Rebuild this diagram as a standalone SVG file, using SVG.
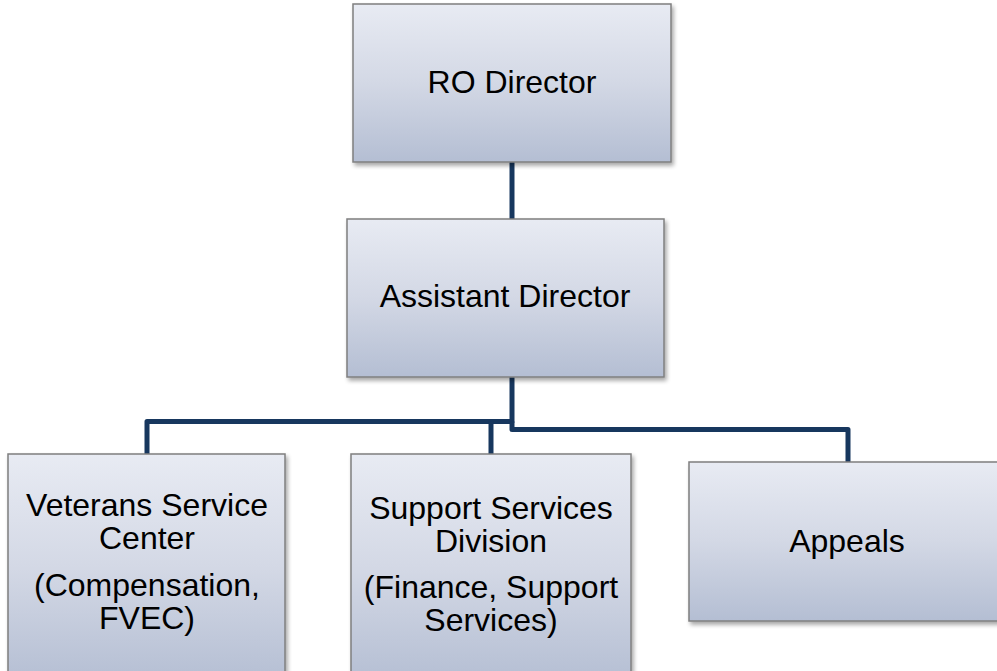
<svg xmlns="http://www.w3.org/2000/svg" width="997" height="671" viewBox="0 0 997 671">
<defs>
<linearGradient id="g" x1="0" y1="0" x2="0" y2="1">
<stop offset="0" stop-color="#E8EBF3"/>
<stop offset="0.5" stop-color="#D3D8E5"/>
<stop offset="1" stop-color="#B4BED3"/>
</linearGradient>
<filter id="sh" x="-5%" y="-5%" width="115%" height="120%">
<feGaussianBlur in="SourceAlpha" stdDeviation="2"/>
<feOffset dx="2" dy="3" result="b"/>
<feComponentTransfer><feFuncA type="linear" slope="0.35"/></feComponentTransfer>
<feMerge><feMergeNode/><feMergeNode in="SourceGraphic"/></feMerge>
</filter>
</defs>
<style>
.box{fill:url(#g);stroke:#7F7F7F;stroke-width:1.5;filter:url(#sh)}
.t{font-family:"Liberation Sans",Arial,sans-serif;fill:#000;text-anchor:middle;font-size:32px}
.c{fill:none;stroke:#17375E;stroke-width:5;stroke-linejoin:round}
</style>
<rect width="997" height="671" fill="#fff"/>
<g id="connectors">
<path class="c" d="M512 162 V219"/>
<path class="c" d="M512 377 V421.5 H147 V454"/>
<path class="c" d="M491 421.5 V454"/>
<path class="c" d="M512 421.5 V429.5 H848 V462"/>
</g>
<g id="ro-director">
<rect class="box" x="353" y="4" width="318" height="158"/>
<text class="t" x="512" y="93">RO Director</text>
</g>
<g id="assistant-director">
<rect class="box" x="347" y="219" width="317" height="158"/>
<text class="t" x="505" y="307">Assistant Director</text>
</g>
<g id="veterans-service-center">
<rect class="box" x="8" y="454" width="277" height="230"/>
<text class="t"><tspan x="147" y="516">Veterans Service</tspan><tspan x="147" y="549">Center</tspan><tspan x="147" y="596">(Compensation,</tspan><tspan x="147" y="629">FVEC)</tspan></text>
</g>
<g id="support-services-division">
<rect class="box" x="351" y="454" width="280" height="230"/>
<text class="t"><tspan x="491" y="519">Support Services</tspan><tspan x="491" y="552">Division</tspan><tspan x="491" y="598">(Finance, Support</tspan><tspan x="491" y="631">Services)</tspan></text>
</g>
<g id="appeals">
<rect class="box" x="689" y="462" width="320" height="159"/>
<text class="t" x="847" y="552">Appeals</text>
</g>
</svg>
